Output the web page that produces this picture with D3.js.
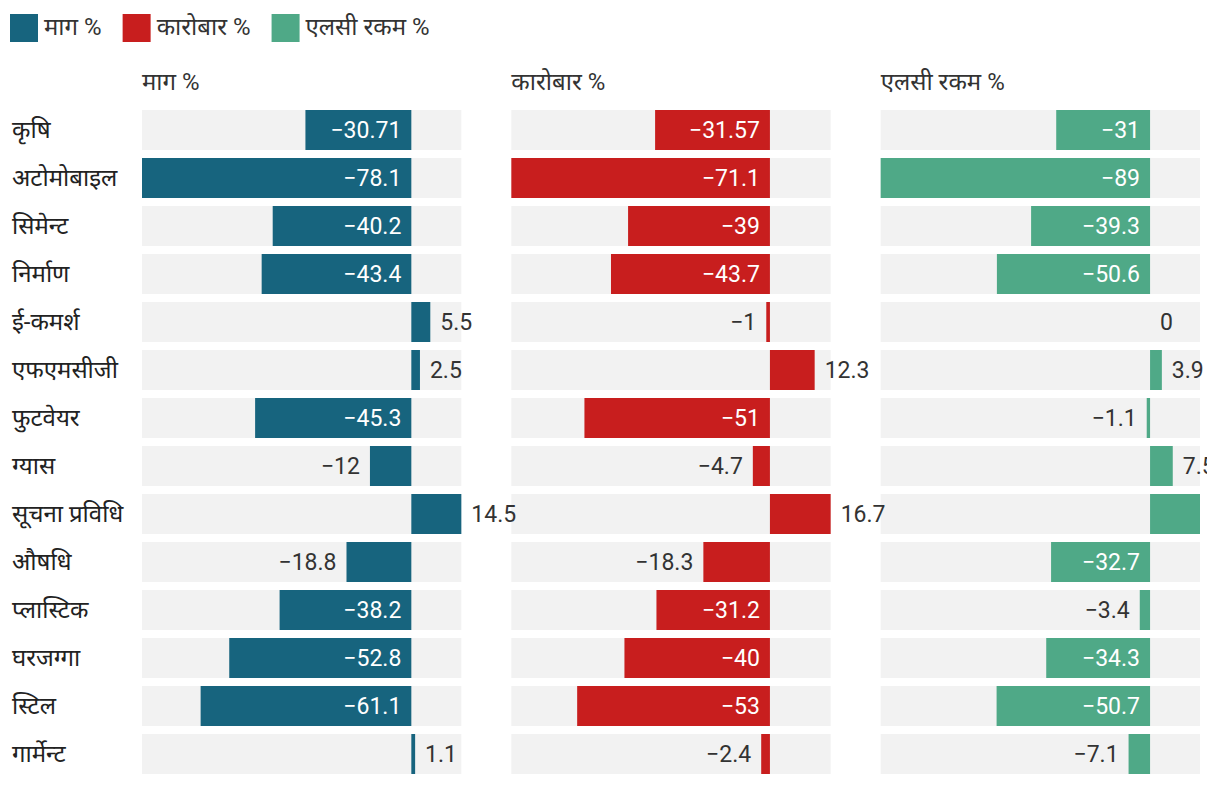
<!DOCTYPE html>
<html><head><meta charset="utf-8">
<script src="https://cdn.jsdelivr.net/npm/d3@7"></script>
<style>
body{margin:0;background:#fff;}
svg{display:block;font-family:Roboto,"Noto Sans","Noto Sans Devanagari",sans-serif;}
</style></head>
<body><svg id="c" width="1207" height="786"></svg>
<script>
const categories = ["कृषि","अटोमोबाइल","सिमेन्ट","निर्माण","ई-कमर्श","एफएमसीजी","फुटवेयर","ग्यास","सूचना प्रविधि","औषधि","प्लास्टिक","घरजग्गा","स्टिल","गार्मेन्ट"];
const seriesNames = ["माग %","कारोबार %","एलसी रकम %"];
const demand   = [-30.71,-78.1,-40.2,-43.4,5.5,2.5,-45.3,-12,14.5,-18.8,-38.2,-52.8,-61.1,1.1];
const turnover = [-31.57,-71.1,-39,-43.7,-1,12.3,-51,-4.7,16.7,-18.3,-31.2,-40,-53,-2.4];
const lcAmount = [-31,-89,-39.3,-50.6,0,3.9,-1.1,7.5,16.5,-32.7,-3.4,-34.3,-50.7,-7.1];
const colors = ["#17647e","#c81e1e","#4fa987"];
const series = [demand, turnover, lcAmount];

const svg = d3.select("#c");
const left = 142, right = 1200, gap = 50;
const pw = (right - left - 2*gap) / 3;
const y = d3.scaleBand().domain(categories)
  .range([110 - 4, 110 - 4 + categories.length*48]).paddingInner(1/6).paddingOuter(1/12);

const fmt = v => (v < 0 ? "−" + Math.abs(v) : String(v));

// Legend
const leg = svg.append("g");
let lx = 10;
seriesNames.forEach((n,i)=>{
  leg.append("rect").attr("x",lx).attr("y",14).attr("width",28).attr("height",28).attr("fill",colors[i]);
  const t = leg.append("text").attr("x",lx+34).attr("y",35).attr("font-size",24).attr("fill","#333").text(n);
  lx += 34 + t.node().getComputedTextLength() + 21;
});

// Category labels
svg.append("g").selectAll("text").data(categories).join("text")
  .attr("x",12).attr("y",d=>y(d)+y.bandwidth()/2+8)
  .attr("font-size",24).attr("fill","#222").text(d=>d);

const labelLayer = [];
series.forEach((vals,si)=>{
  const x0 = left + si*(pw+gap);
  const x = d3.scaleLinear().domain([d3.min(vals), d3.max(vals)]).range([x0, x0+pw]);
  const g = svg.append("g");
  g.append("text").attr("x",x0).attr("y",90).attr("font-size",24).attr("fill","#333").text(seriesNames[si]);
  g.selectAll("rect.bg").data(categories).join("rect").attr("class","bg")
    .attr("x",x0).attr("width",pw).attr("y",d=>y(d)).attr("height",y.bandwidth()).attr("fill","#f2f2f2");
  g.selectAll("rect.bar").data(vals).join("rect").attr("class","bar")
    .attr("x",v=>Math.min(x(0),x(v))).attr("width",v=>Math.abs(x(v)-x(0)))
    .attr("y",(v,i)=>y(categories[i])).attr("height",y.bandwidth()).attr("fill",colors[si]);
  vals.forEach((v,i)=>labelLayer.push({v,i,x,si}));
});

const lg = svg.append("g");
labelLayer.forEach(d=>{
  const t = lg.append("text").attr("font-size",23).attr("y",y(categories[d.i])+y.bandwidth()/2+8).text(fmt(d.v));
  const w = t.node().getComputedTextLength();
  const z = d.x(0), e = d.x(d.v);
  if (d.v >= 0) {
    t.attr("x", e + 10).attr("fill","#333");
  } else if (z - e > w + 20) {
    t.attr("x", z - 10).attr("text-anchor","end").attr("fill","#fff");
  } else {
    t.attr("x", e - 10).attr("text-anchor","end").attr("fill","#333");
  }
});
</script></body></html>
